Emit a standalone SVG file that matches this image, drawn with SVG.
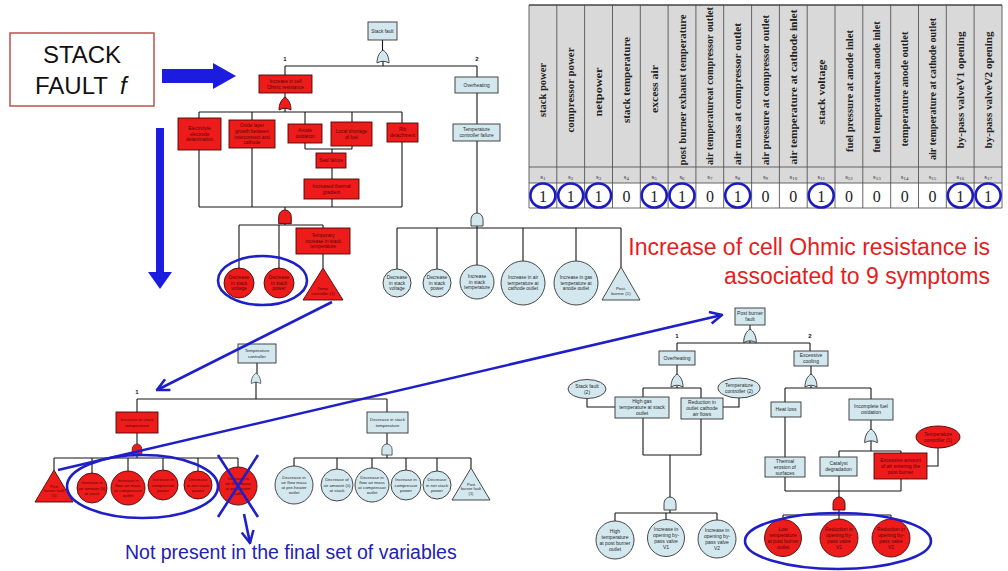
<svg xmlns="http://www.w3.org/2000/svg" width="1008" height="571" viewBox="0 0 1008 571">
<style>
.w{stroke:#151515;stroke-width:1.1;fill:none}
.nb{fill:#d3e8ee;stroke:#333;stroke-width:0.9}
.nr{fill:#ee1b1b;stroke:#4a0808;stroke-width:0.9}
.t{font-family:"Liberation Sans",Arial,sans-serif;text-anchor:middle}
.tb{fill:#2a2a2a}
.tr{fill:#5a0505}
.f1{font-size:4.8px}
.f2{font-size:4.4px}
.f3{font-size:5px}
.lbl{font-family:"Liberation Sans",Arial,sans-serif;font-size:6px;font-weight:bold;fill:#111;text-anchor:middle}
.an{stroke:#1f1fc8;stroke-width:2.6;fill:none}
.th{font-family:"Liberation Serif","Times New Roman",serif;font-weight:bold;font-size:10px;fill:#222;text-anchor:middle}
.ts{font-family:"Liberation Serif","Times New Roman",serif;font-size:7px;fill:#333;text-anchor:middle}
.tv{font-family:"Liberation Serif","Times New Roman",serif;font-size:16px;fill:#222;text-anchor:middle}
.ring{fill:none;stroke:#1b1bbf;stroke-width:2.6}
.grid{stroke:#555;stroke-width:0.9;fill:none}
</style>
<defs>
<path id="gor" d="M-6,13 C-6,6 -3,2 0,0 C3,2 6,6 6,13 Q0,9.5 -6,13 Z"/>
<path id="gand" d="M-6,13 V6.5 A6,6.5 0 0 1 6,6.5 V13 Z"/>
<marker id="ah" viewBox="0 0 10 10" refX="9" refY="5" markerWidth="15" markerHeight="15" markerUnits="userSpaceOnUse" orient="auto">
<path d="M1,1 L9,5 L1,9" fill="none" stroke="#1f1fc8" stroke-width="1.7"/>
</marker>
</defs>
<rect width="1008" height="571" fill="#fff"/>

<!-- title box and pointer arrows -->
<g id="title">
<rect x="10" y="33" width="144" height="73" fill="#fff" stroke="#c0504d" stroke-width="1.5"/>
<text x="82" y="63" font-family="Liberation Sans,Arial,sans-serif" font-size="24" fill="#111" text-anchor="middle">STACK</text>
<text x="35" y="94" font-family="Liberation Sans,Arial,sans-serif" font-size="24" fill="#111">FAULT<tspan dx="12" font-style="italic">f</tspan></text>
</g>
<polygon points="162,69 213,69 213,63 236,76 213,89 213,83 162,83" fill="#1c1ce0"/>
<polygon points="156,128 164,128 164,272 172,272 160,289 148,272 156,272" fill="#1c1ce0"/>

<!-- connectors -->
<g id="connectors" class="w">
<path d="M382.5,40V51 M383,61V66 M285,66H477 M285,66V75 M285,93V98 M285,108V112 M199,112H402 M199,112V118 M252,112V120 M305,112V124 M352,112V122 M402,112V123 M305,143V149 M352,146V149 M305,149H352 M332,149V153 M332,168V179 M332,199V207 M199,150V207 M252,148V207 M402,142V207 M199,207H402 M285,207V210 M285,223V225 M239,225H323 M239,225V268 M279,225V268 M323,225V228 M323,254V268"/>
<path d="M477,66V77 M477,93V124 M477,141V213 M477,225V228 M397,228H621 M397,228V269 M437,228V269 M477,228V265 M523,228V261 M576,228V261 M621,228V267"/>
<path d="M257,363V374 M256,382V399 M137,399H387 M137,399V412 M137,433V444 M137,454V458 M54,458H238 M54,458V470 M92,458V473 M128,458V471 M163,458V470 M198,458V471 M238,458V467 M387,399V412 M387,433V444 M387,455V458 M294,458H471 M294,458V466 M337,458V469 M372,458V468 M406,458V470 M437,458V471 M471,458V468"/>
<path d="M750,325V330 M750,341V343 M677,343H810 M677,343V351 M677,365V375 M677,386V388 M643,388H701 M643,388V397 M701,388V398 M587,398.5V407H615 M739,398V407H723 M643,418V455 M701,419V455 M643,455H701 M670,455V498 M670,510V513 M615,513H717 M615,513V521 M666,513V519.5 M717,513V520"/>
<path d="M810,343V351 M811,366V375 M811,386V388 M785,388H871 M785,388V402 M871,388V399 M871,420V430 M871,441V451 M839,451H901 M839,451V457 M901,451V453 M938,448V466H927 M785,417V457 M785,477V491 M901,479V491 M785,491H901 M839,476V498 M839,510V515 M783,515H891 M783,515V519.5 M839,515V519 M891,515V519"/>
</g>

<!-- logic gates -->
<g id="gates">
<use href="#gor" class="nb" transform="translate(383,50)"/>
<use href="#gor" class="nr" transform="translate(285,97)"/>
<use href="#gand" class="nr" transform="translate(285,210) scale(1.05)"/>
<use href="#gand" class="nb" transform="translate(477,213)"/>
<use href="#gor" class="nb" transform="translate(256,373) scale(0.8)"/>
<use href="#gand" class="nr" transform="translate(137,444) scale(0.8)"/>
<use href="#gand" class="nb" transform="translate(387,444) scale(0.85)"/>
<use href="#gor" class="nb" transform="translate(750,329) scale(1.05)"/>
<use href="#gor" class="nb" transform="translate(677,374) scale(1.0)"/>
<use href="#gor" class="nb" transform="translate(811,374) scale(1.0)"/>
<use href="#gor" class="nb" transform="translate(871,429) scale(1.05)"/>
<use href="#gand" class="nb" transform="translate(670,497)"/>
<use href="#gand" class="nr" transform="translate(839,497)"/>
</g>

<g id="branch-labels">
<text class="lbl" x="285" y="61">1</text>
<text class="lbl" x="477" y="61">2</text>
<text class="lbl" x="137" y="394">1</text>
<text class="lbl" x="677" y="338">1</text>
<text class="lbl" x="810" y="338">2</text>
</g>

<!-- upper fault tree -->
<g id="stack-fault"><rect class="nb" x="368" y="22" width="29" height="18"/><text class="t tb f1" x="382.5" y="32.7">Stack fault</text></g>
<g id="ohmic"><rect class="nr" x="259" y="75" width="53" height="18"/><text class="t tr f1" y="82.9"><tspan x="285.5">Increase in cell</tspan><tspan x="285.5" dy="5.6">Ohmic resistance</tspan></text></g>
<g id="delamination"><rect class="nr" x="178" y="118" width="43" height="32"/><text class="t tr f1" y="130.1"><tspan x="199.5">Electrolyte</tspan><tspan x="199.5" dy="5.6">electrode</tspan><tspan x="199.5" dy="5.6">delamination</tspan></text></g>
<g id="oxide"><rect class="nr" x="229" y="120" width="46" height="28"/><text class="t tr f1" y="127.3"><tspan x="252">Oxide layer</tspan><tspan x="252" dy="5.6">growth between</tspan><tspan x="252" dy="5.6">interconnect and</tspan><tspan x="252" dy="5.6">cathode</tspan></text></g>
<g id="anode-ox"><rect class="nr" x="288" y="124" width="34" height="19"/><text class="t tr f1" y="132.4"><tspan x="305">Anode</tspan><tspan x="305" dy="5.6">oxidation</tspan></text></g>
<g id="fuel-short"><rect class="nr" x="331" y="122" width="41" height="24"/><text class="t tr f1" y="132.9"><tspan x="351.5">Local shortage</tspan><tspan x="351.5" dy="5.6">of fuel</tspan></text></g>
<g id="rib"><rect class="nr" x="387" y="123" width="31" height="19"/><text class="t tr f1" y="131.4"><tspan x="402.5">Rib</tspan><tspan x="402.5" dy="5.6">detachment</tspan></text></g>
<g id="seal"><rect class="nr" x="316" y="153" width="30" height="15"/><text class="t tr f1" x="331" y="162.2">Seal failure</text></g>
<g id="thermal-grad"><rect class="nr" x="304" y="179" width="55" height="20"/><text class="t tr f1" y="187.9"><tspan x="331.5">Increased thermal</tspan><tspan x="331.5" dy="5.6">gradient</tspan></text></g>
<g id="temp-increase"><rect class="nr" x="296" y="228" width="54" height="26"/><text class="t tr f1" y="237.1"><tspan x="323">Temporary</tspan><tspan x="323" dy="5.6">increase in stack</tspan><tspan x="323" dy="5.6">temperature</tspan></text></g>
<g id="r-volt"><circle class="nr" cx="239" cy="283" r="15"/><text class="t tr f1" y="279.1"><tspan x="239">Decrease</tspan><tspan x="239" dy="5.6">in stack</tspan><tspan x="239" dy="5.6">voltage</tspan></text></g>
<g id="r-power"><circle class="nr" cx="279" cy="283" r="15"/><text class="t tr f1" y="279.1"><tspan x="279">Decrease</tspan><tspan x="279" dy="5.6">in stack</tspan><tspan x="279" dy="5.6">power</tspan></text></g>
<g id="r-tc1"><polygon class="nr" points="323,268 343,300 303,300"/><text class="t tr" font-size="4.2" y="290"><tspan x="323">Temp.</tspan><tspan x="323" dy="5">controller (1)</tspan></text></g>

<g id="overheat-a"><rect class="nb" x="455" y="77" width="43" height="16"/><text class="t tb f1" x="476.5" y="86.7">Overheating</text></g>
<g id="tc-failure"><rect class="nb" x="453" y="124" width="47" height="17"/><text class="t tb f1" y="131.4"><tspan x="476.5">Temperature</tspan><tspan x="476.5" dy="5.6">controller failure</tspan></text></g>
<g id="b-volt"><circle class="nb" cx="397" cy="283" r="14"/><text class="t tb f1" y="279.1"><tspan x="397">Decrease</tspan><tspan x="397" dy="5.6">in stack</tspan><tspan x="397" dy="5.6">voltage</tspan></text></g>
<g id="b-power"><circle class="nb" cx="437" cy="283" r="14"/><text class="t tb f1" y="279.1"><tspan x="437">Decrease</tspan><tspan x="437" dy="5.6">in stack</tspan><tspan x="437" dy="5.6">power</tspan></text></g>
<g id="b-temp"><circle class="nb" cx="477" cy="282" r="17"/><text class="t tb f1" y="278.1"><tspan x="477">Increase</tspan><tspan x="477" dy="5.6">in stack</tspan><tspan x="477" dy="5.6">temperature</tspan></text></g>
<g id="b-cathode"><circle class="nb" cx="523" cy="283" r="22"/><text class="t tb f1" y="279.1"><tspan x="523">Increase in air</tspan><tspan x="523" dy="5.6">temperature at</tspan><tspan x="523" dy="5.6">cathode outlet</tspan></text></g>
<g id="b-anode"><circle class="nb" cx="576" cy="283" r="22"/><text class="t tb f1" y="279.1"><tspan x="576">Increase in gas</tspan><tspan x="576" dy="5.6">temperature at</tspan><tspan x="576" dy="5.6">anode outlet</tspan></text></g>
<g id="b-postburner"><polygon class="nb" points="621,267 640,300 602,300"/><text class="t tb" font-size="4.4" y="290"><tspan x="621">Post-</tspan><tspan x="621" dy="5.2">burner (1)</tspan></text></g>

<!-- symptom table -->
<g id="table">
<rect x="529" y="5" width="473" height="178" fill="#d9d9d9"/>
<rect x="529" y="183" width="473" height="25" fill="#fff"/>
<path class="grid" d="M529,167H1002 M529,183H1002 M529,208H1002 M529,5V208 M556.8,5V208 M584.6,5V208 M612.5,5V208 M640.3,5V208 M668.1,5V208 M695.9,5V208 M723.7,5V208 M751.6,5V208 M779.4,5V208 M807.2,5V208 M835,5V208 M862.8,5V208 M890.7,5V208 M918.5,5V208 M946.3,5V208 M974.1,5V208 M1002,5V208"/>
<path d="M529,5H1002" stroke="#444" stroke-width="1.6"/>
<text class="th" transform="translate(546.4,90) rotate(-90)" textLength="54" lengthAdjust="spacingAndGlyphs">stack power</text>
<text class="th" transform="translate(574.2,90) rotate(-90)" textLength="85" lengthAdjust="spacingAndGlyphs">compressor power</text>
<text class="th" transform="translate(602.1,92) rotate(-90)" textLength="49" lengthAdjust="spacingAndGlyphs">netpower</text>
<text class="th" transform="translate(629.9,80) rotate(-90)" textLength="86" lengthAdjust="spacingAndGlyphs">stack temperature</text>
<text class="th" transform="translate(657.7,89) rotate(-90)" textLength="48" lengthAdjust="spacingAndGlyphs">excess air</text>
<text class="th" transform="translate(685.5,90) rotate(-90)" textLength="151" lengthAdjust="spacingAndGlyphs">post burner exhaust temperature</text>
<text class="th" transform="translate(713.4,86) rotate(-90)" textLength="158" lengthAdjust="spacingAndGlyphs">air temperatureat compressor outlet</text>
<text class="th" transform="translate(741.2,94) rotate(-90)" textLength="142" lengthAdjust="spacingAndGlyphs">air mass at compressor outlet</text>
<text class="th" transform="translate(769,90) rotate(-90)" textLength="150" lengthAdjust="spacingAndGlyphs">air pressure at compressor outlet</text>
<text class="th" transform="translate(796.8,87) rotate(-90)" textLength="155" lengthAdjust="spacingAndGlyphs">air temperature at cathode inlet</text>
<text class="th" transform="translate(824.7,92) rotate(-90)" textLength="65" lengthAdjust="spacingAndGlyphs">stack voltage</text>
<text class="th" transform="translate(852.5,91) rotate(-90)" textLength="122" lengthAdjust="spacingAndGlyphs">fuel pressure at anode inlet</text>
<text class="th" transform="translate(880.3,87) rotate(-90)" textLength="131" lengthAdjust="spacingAndGlyphs">fuel temperatureat anode inlet</text>
<text class="th" transform="translate(908.2,89) rotate(-90)" textLength="115" lengthAdjust="spacingAndGlyphs">temperature anode outlet</text>
<text class="th" transform="translate(936,89) rotate(-90)" textLength="142" lengthAdjust="spacingAndGlyphs">air temperature at cathode outlet</text>
<text class="th" transform="translate(963.8,90) rotate(-90)" textLength="117" lengthAdjust="spacingAndGlyphs">by-pass valveV1 opening</text>
<text class="th" transform="translate(991.6,90) rotate(-90)" textLength="117" lengthAdjust="spacingAndGlyphs">by-pass valveV2 opening</text>
<g class="ts">
<text x="542.9" y="179">s<tspan font-size="5" dy="1">1</tspan></text>
<text x="570.7" y="179">s<tspan font-size="5" dy="1">2</tspan></text>
<text x="598.6" y="179">s<tspan font-size="5" dy="1">3</tspan></text>
<text x="626.4" y="179">s<tspan font-size="5" dy="1">4</tspan></text>
<text x="654.2" y="179">s<tspan font-size="5" dy="1">5</tspan></text>
<text x="682" y="179">s<tspan font-size="5" dy="1">6</tspan></text>
<text x="709.9" y="179">s<tspan font-size="5" dy="1">7</tspan></text>
<text x="737.7" y="179">s<tspan font-size="5" dy="1">8</tspan></text>
<text x="765.5" y="179">s<tspan font-size="5" dy="1">9</tspan></text>
<text x="793.3" y="179">s<tspan font-size="5" dy="1">10</tspan></text>
<text x="821.2" y="179">s<tspan font-size="5" dy="1">11</tspan></text>
<text x="849" y="179">s<tspan font-size="5" dy="1">12</tspan></text>
<text x="876.8" y="179">s<tspan font-size="5" dy="1">13</tspan></text>
<text x="904.7" y="179">s<tspan font-size="5" dy="1">14</tspan></text>
<text x="932.5" y="179">s<tspan font-size="5" dy="1">15</tspan></text>
<text x="960.3" y="179">s<tspan font-size="5" dy="1">16</tspan></text>
<text x="988.1" y="179">s<tspan font-size="5" dy="1">17</tspan></text>
</g>
<g class="tv">
<text x="542.9" y="202">1</text><text x="570.7" y="202">1</text><text x="598.6" y="202">1</text><text x="626.4" y="202">0</text>
<text x="654.2" y="202">1</text><text x="682" y="202">1</text><text x="709.9" y="202">0</text><text x="737.7" y="202">1</text>
<text x="765.5" y="202">0</text><text x="793.3" y="202">0</text><text x="821.2" y="202">1</text><text x="849" y="202">0</text>
<text x="876.8" y="202">0</text><text x="904.7" y="202">0</text><text x="932.5" y="202">0</text><text x="960.3" y="202">1</text>
<text x="988.1" y="202">1</text>
</g>
<g class="ring">
<ellipse cx="542.9" cy="195.5" rx="12.5" ry="12"/><ellipse cx="570.7" cy="195.5" rx="12.5" ry="12"/><ellipse cx="598.6" cy="195.5" rx="12.5" ry="12"/>
<ellipse cx="654.2" cy="195.5" rx="12.5" ry="12"/><ellipse cx="682" cy="195.5" rx="12.5" ry="12"/><ellipse cx="737.7" cy="195.5" rx="12.5" ry="12"/>
<ellipse cx="821.2" cy="195.5" rx="12.5" ry="12"/><ellipse cx="960.3" cy="195.5" rx="12.5" ry="12"/><ellipse cx="988.1" cy="195.5" rx="12.5" ry="12"/>
</g>
</g>

<text font-family="Liberation Sans,Arial,sans-serif" font-size="23" fill="#e41e1e" text-anchor="end"><tspan x="990" y="255">Increase of cell Ohmic resistance is</tspan><tspan x="990" y="284">associated to 9 symptoms</tspan></text>

<!-- lower-left tree: temperature controller -->
<g id="temp-ctrl"><rect class="nb" x="238" y="344" width="38" height="19"/><text class="t tb f2" y="352.4"><tspan x="257">Temperature</tspan><tspan x="257" dy="5.2">controller</tspan></text></g>
<g id="stack-temp-up"><rect class="nr" x="116" y="412" width="42" height="21"/><text class="t tr f2" y="421.4"><tspan x="137">Increase in stack</tspan><tspan x="137" dy="5.2">temperature</tspan></text></g>
<g id="r-pb"><polygon class="nr" points="54,470 73,502 35,502"/><text class="t tr" font-size="4" y="487.5"><tspan x="54">Post</tspan><tspan x="54" dy="4.8">burner fault</tspan><tspan x="54" dy="4.8">(1)</tspan></text></g>
<g id="r-lambda"><circle class="nr" cx="92" cy="488" r="15"/><text class="t tr f2" y="484.3"><tspan x="92">Increase in</tspan><tspan x="92" dy="5.2">air amount (λ)</tspan><tspan x="92" dy="5.2">at stack</tspan></text></g>
<g id="r-flow"><circle class="nr" cx="128" cy="488" r="17"/><text class="t tr f2" y="481.7"><tspan x="128">Increase in</tspan><tspan x="128" dy="5.2">flow air mass</tspan><tspan x="128" dy="5.2">at compressor</tspan><tspan x="128" dy="5.2">outlet</tspan></text></g>
<g id="r-comp"><circle class="nr" cx="163" cy="485" r="15"/><text class="t tr f2" y="481.3"><tspan x="163">Increase in</tspan><tspan x="163" dy="5.2">compressor</tspan><tspan x="163" dy="5.2">power</tspan></text></g>
<g id="r-net"><circle class="nr" cx="198" cy="485" r="14"/><text class="t tr f2" y="481.3"><tspan x="198">Decrease</tspan><tspan x="198" dy="5.2">in net stack</tspan><tspan x="198" dy="5.2">power</tspan></text></g>
<g id="r-preheat"><circle class="nr" cx="238" cy="486" r="19"/><text class="t tr f2" y="479.7"><tspan x="238">Increase in</tspan><tspan x="238" dy="5.2">air flow mass</tspan><tspan x="238" dy="5.2">at pre-heater</tspan><tspan x="238" dy="5.2">outlet</tspan></text></g>

<g id="stack-temp-down"><rect class="nb" x="367" y="412" width="41" height="21"/><text class="t tb f2" y="421.4"><tspan x="387.5">Decrease in stack</tspan><tspan x="387.5" dy="5.2">temperature</tspan></text></g>
<g id="b-preheat"><circle class="nb" cx="294" cy="485" r="19"/><text class="t tb f2" y="478.7"><tspan x="294">Decrease in</tspan><tspan x="294" dy="5.2">air flow mass</tspan><tspan x="294" dy="5.2">at pre-heater</tspan><tspan x="294" dy="5.2">outlet</tspan></text></g>
<g id="b-lambda"><circle class="nb" cx="337" cy="485" r="16"/><text class="t tb f2" y="481.3"><tspan x="337">Decrease of</tspan><tspan x="337" dy="5.2">air amount (λ)</tspan><tspan x="337" dy="5.2">at stack</tspan></text></g>
<g id="b-flow"><circle class="nb" cx="372" cy="485" r="17"/><text class="t tb f2" y="478.7"><tspan x="372">Decrease in</tspan><tspan x="372" dy="5.2">flow air mass</tspan><tspan x="372" dy="5.2">at compressor</tspan><tspan x="372" dy="5.2">outlet</tspan></text></g>
<g id="b-comp"><circle class="nb" cx="406" cy="485" r="15"/><text class="t tb f2" y="481.3"><tspan x="406">Increase in</tspan><tspan x="406" dy="5.2">compressor</tspan><tspan x="406" dy="5.2">power</tspan></text></g>
<g id="b-net"><circle class="nb" cx="437" cy="485" r="14"/><text class="t tb f2" y="481.3"><tspan x="437">Decrease</tspan><tspan x="437" dy="5.2">in net stack</tspan><tspan x="437" dy="5.2">power</tspan></text></g>
<g id="b-pb"><polygon class="nb" points="471,468 490,500 452,500"/><text class="t tb" font-size="4" y="485.5"><tspan x="471">Post</tspan><tspan x="471" dy="4.8">burner fault</tspan><tspan x="471" dy="4.8">(1)</tspan></text></g>

<!-- lower-right tree: post burner -->
<g id="pb-fault"><rect class="nb" x="735" y="308" width="30" height="17"/><text class="t tb f3" y="315.2"><tspan x="750">Post burner</tspan><tspan x="750" dy="6">fault</tspan></text></g>
<g id="overheat-b"><rect class="nb" x="659" y="351" width="36" height="14"/><text class="t tb f3" x="677" y="359.8">Overheating</text></g>
<g id="high-gas"><rect class="nb" x="615" y="397" width="54" height="21"/><text class="t tb f3" y="403.1"><tspan x="642">High gas</tspan><tspan x="642" dy="6">temperature at stack</tspan><tspan x="642" dy="6">outlet</tspan></text></g>
<g id="reduction"><rect class="nb" x="681" y="398" width="42" height="21"/><text class="t tb f3" y="404.1"><tspan x="702">Reduction in</tspan><tspan x="702" dy="6">outlet cathode</tspan><tspan x="702" dy="6">air flows</tspan></text></g>
<g id="sf2"><ellipse class="nb" cx="587" cy="389" rx="19" ry="9.5"/><text class="t tb f3" y="387.7"><tspan x="587">Stack fault</tspan><tspan x="587" dy="6">(2)</tspan></text></g>
<g id="tc2"><ellipse class="nb" cx="739" cy="388" rx="21" ry="10"/><text class="t tb f3" y="386.7"><tspan x="739">Temperature</tspan><tspan x="739" dy="6">controller (2)</tspan></text></g>
<g id="b-hightemp"><circle class="nb" cx="615" cy="540" r="19"/><text class="t tb f3" y="532.5"><tspan x="615">High</tspan><tspan x="615" dy="6">temperature</tspan><tspan x="615" dy="6">at post burner</tspan><tspan x="615" dy="6">outlet</tspan></text></g>
<g id="b-v1"><circle class="nb" cx="666" cy="538" r="18.5"/><text class="t tb f3" y="530.5"><tspan x="666">Increase in</tspan><tspan x="666" dy="6">opening by-</tspan><tspan x="666" dy="6">pass valve</tspan><tspan x="666" dy="6">V1</tspan></text></g>
<g id="b-v2"><circle class="nb" cx="717" cy="539" r="19"/><text class="t tb f3" y="531.5"><tspan x="717">Increase in</tspan><tspan x="717" dy="6">opening by-</tspan><tspan x="717" dy="6">pass valve</tspan><tspan x="717" dy="6">V2</tspan></text></g>
<g id="exc-cooling"><rect class="nb" x="794" y="351" width="34" height="15"/><text class="t tb f3" y="357.2"><tspan x="811">Excessive</tspan><tspan x="811" dy="6">cooling</tspan></text></g>
<g id="heat-loss"><rect class="nb" x="771" y="402" width="30" height="15"/><text class="t tb f3" x="786" y="411.3">Heat loss</text></g>
<g id="incomplete"><rect class="nb" x="849" y="399" width="44" height="21"/><text class="t tb f3" y="408.2"><tspan x="871">Incomplete fuel</tspan><tspan x="871" dy="6">oxidation</tspan></text></g>
<g id="erosion"><rect class="nb" x="765" y="457" width="40" height="20"/><text class="t tb f3" y="462.6"><tspan x="785">Thermal</tspan><tspan x="785" dy="6">erosion of</tspan><tspan x="785" dy="6">surfaces</tspan></text></g>
<g id="catalyst"><rect class="nb" x="820" y="457" width="37" height="19"/><text class="t tb f3" y="465.2"><tspan x="838.5">Catalyst</tspan><tspan x="838.5" dy="6">degradation</tspan></text></g>
<g id="excess-air"><rect class="nr" x="874" y="453" width="53" height="26"/><text class="t tr f3" y="461.6"><tspan x="900.5">Excessive amount</tspan><tspan x="900.5" dy="6">of air entering the</tspan><tspan x="900.5" dy="6">post burner</tspan></text></g>
<g id="tc1-red"><ellipse class="nr" cx="938" cy="437" rx="22" ry="11"/><text class="t tr f3" y="435.7"><tspan x="938">Temperature</tspan><tspan x="938" dy="6">controller (1)</tspan></text></g>
<g id="r-lowtemp"><circle class="nr" cx="783" cy="538" r="18.5"/><text class="t tr f3" y="530.5"><tspan x="783">Low</tspan><tspan x="783" dy="6">temperature</tspan><tspan x="783" dy="6">at post burner</tspan><tspan x="783" dy="6">outlet</tspan></text></g>
<g id="r-v1"><circle class="nr" cx="839" cy="538" r="19"/><text class="t tr f3" y="530.5"><tspan x="839">Reduction in</tspan><tspan x="839" dy="6">opening by-</tspan><tspan x="839" dy="6">pass valve</tspan><tspan x="839" dy="6">V1</tspan></text></g>
<g id="r-v2"><circle class="nr" cx="891" cy="538" r="19"/><text class="t tr f3" y="530.5"><tspan x="891">Reduction in</tspan><tspan x="891" dy="6">opening by-</tspan><tspan x="891" dy="6">pass valve</tspan><tspan x="891" dy="6">V2</tspan></text></g>

<!-- hand-drawn highlights -->
<g id="highlights" class="an">
<ellipse cx="262.5" cy="280.5" rx="44.5" ry="24.5"/>
<ellipse cx="142.5" cy="486.5" rx="75.5" ry="31.5"/>
<ellipse cx="838" cy="541" rx="93" ry="28"/>
<path d="M218,455L258,517 M258,455L218,517"/>
<path d="M332,302L157,390" marker-end="url(#ah)"/>
<path d="M58,470L722,315" marker-end="url(#ah)"/>
<path d="M244,514L250,543" marker-end="url(#ah)"/>
</g>
<text x="125" y="559" font-family="Liberation Sans,Arial,sans-serif" font-size="19.5" fill="#2222b0">Not present in the final set of variables</text>
</svg>
